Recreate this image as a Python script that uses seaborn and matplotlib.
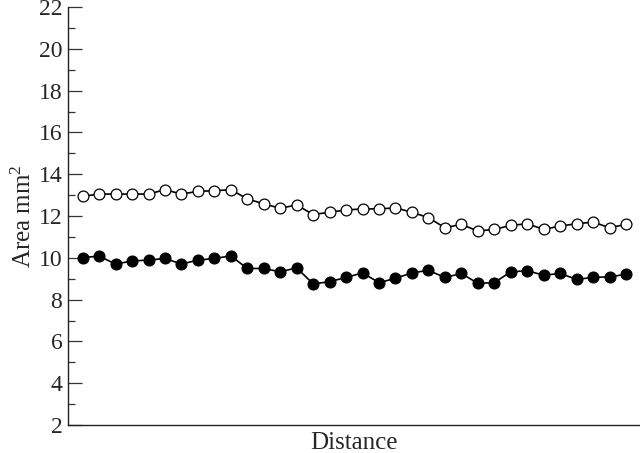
#!/usr/bin/env python3
"""Area along distance: open vs filled series, recreated with seaborn."""

import matplotlib

matplotlib.use("Agg")
import matplotlib.pyplot as plt
import numpy as np
import seaborn as sns
from matplotlib.ticker import MultipleLocator

# readings along the distance axis (34 stations)
open_area = [
    12.94, 13.05, 13.05, 13.05, 13.05, 13.26, 13.05, 13.18, 13.21, 13.26,
    12.82, 12.58, 12.37, 12.53, 12.07, 12.18, 12.29, 12.34, 12.34, 12.39,
    12.18, 11.92, 11.44, 11.60, 11.28, 11.36, 11.55, 11.63, 11.36, 11.52,
    11.63, 11.71, 11.44, 11.60,
]
filled_area = [
    10.01, 10.08, 9.70, 9.85, 9.89, 9.97, 9.70, 9.89, 9.97, 10.09,
    9.49, 9.49, 9.33, 9.52, 8.75, 8.86, 9.06, 9.28, 8.81, 9.02,
    9.28, 9.40, 9.06, 9.25, 8.78, 8.81, 9.33, 9.38, 9.17, 9.25,
    8.97, 9.06, 9.09, 9.21,
]
station = np.arange(len(open_area))
y_ticks = list(range(2, 23, 2))

sns.set_style("ticks")
plt.rcParams["font.family"] = ["Liberation Serif", "DejaVu Serif"]
plt.rcParams["mathtext.default"] = "regular"

fig = plt.figure(figsize=(6.4, 4.53), dpi=100)
ax = fig.add_axes([0.106, 0.0618, 0.894, 0.9227])

line_style = dict(color="black", linewidth=1.2, marker="o", markersize=7.8,
                  markeredgecolor="black", markeredgewidth=0.9)
sns.lineplot(x=station, y=filled_area, ax=ax, markerfacecolor="black", **line_style)
sns.lineplot(x=station, y=open_area, ax=ax, markerfacecolor="white", **line_style)

ax.set_xlim(-0.9, 33.85)
ax.set_ylim(2, 22)
ax.set_yticks(y_ticks)
ax.yaxis.set_minor_locator(MultipleLocator(1))
ax.tick_params(axis="y", which="major", direction="in", length=10, width=0.9,
               labelsize=17, pad=4, color="#333333")
ax.tick_params(axis="y", which="minor", direction="in", length=5, width=0.9,
               color="#333333")
ax.set_xticks([])

for side in ("top", "right"):
    ax.spines[side].set_visible(False)
for side in ("left", "bottom"):
    ax.spines[side].set_linewidth(1.0)
    ax.spines[side].set_color("#222222")

ax.set_xlabel("Distance", fontsize=18, labelpad=5)
ax.set_ylabel("Area mm$^2$", fontsize=18, labelpad=2)

fig.savefig("out.png", dpi=100)
plt.close(fig)
